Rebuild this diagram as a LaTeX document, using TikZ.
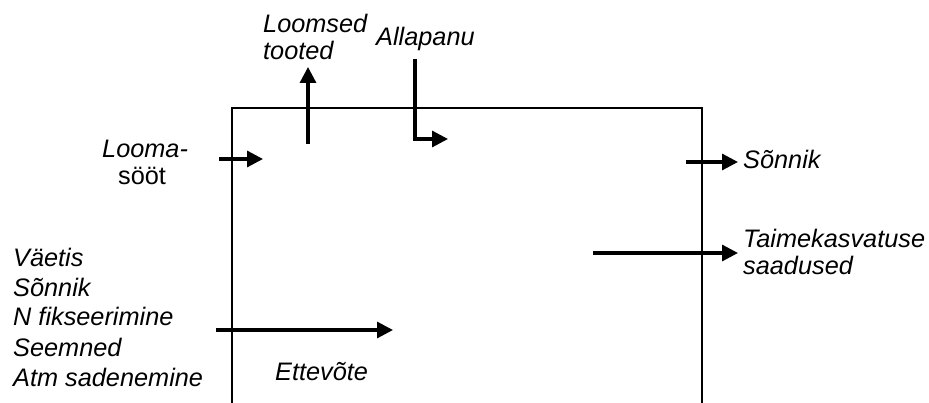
\documentclass[tikz,border=0pt]{standalone}
\usepackage{fontspec}
\setmainfont{Liberation Sans}
\usetikzlibrary{arrows.meta}
\tikzset{
  lbl/.style={inner sep=0pt, anchor=base west, font=\fontsize{25.3}{29}\selectfont\itshape},
  lblup/.style={inner sep=0pt, anchor=base west, font=\fontsize{25.3}{29}\selectfont\upshape},
  frame/.style={line width=1.7pt, line join=miter},
  flow/.style={line width=3.2pt, -{Triangle[length=16pt,width=16pt]}},
}
\begin{document}
\begin{tikzpicture}[x=1pt,y=-1pt]
\useasboundingbox (0,0) rectangle (929,403);

% enterprise boundary (open at the bottom)
\draw[frame] (232,403) -- (232,108) -- (702,108) -- (702,403);

% labels
\node[lbl] (tooted1) at (263,33) {Loomsed};
\node[lbl] (tooted2) at (263,60) {tooted};
\node[lbl] (allapanu) at (376,46) {Allapanu};
\node[lbl] (looma) at (102,158) {Looma-};
\node[lblup] (soot) at (118,185) {sööt};
\node[lbl] (sonnikout) at (743,169) {Sõnnik};
\node[lbl] (taim1) at (743,248) {Taimekasvatuse};
\node[lbl] (taim2) at (743,275) {saadused};
\node[lbl] (in1) at (13,267) {Väetis};
\node[lbl] (in2) at (13,297) {Sõnnik};
\node[lbl] (in3) at (13,326) {N fikseerimine};
\node[lbl] (in4) at (13,356) {Seemned};
\node[lbl] (in5) at (13,386) {Atm sadenemine};
\node[lbl] (ettevote) at (275,380) {Ettevõte};

% arrow end points
\coordinate (tootedS) at (308,144);
\coordinate (tootedE) at (308,67);
\coordinate (allaS) at (415,59);
\coordinate (allaK) at (415,139);
\coordinate (allaE) at (448,139);
\coordinate (soodS) at (219,159);
\coordinate (soodE) at (263,159);
\coordinate (sonnS) at (686,162);
\coordinate (sonnE) at (738,162);
\coordinate (taimS) at (593,253);
\coordinate (taimE) at (738,253);
\coordinate (sisS) at (216,330);
\coordinate (sisE) at (393,330);

% flows
\draw[flow] (tootedS) -- (tootedE);
\draw[flow, line join=miter] (allaS) -- (allaK) -- (allaE);
\draw[flow] (soodS) -- (soodE);
\draw[flow] (sonnS) -- (sonnE);
\draw[flow] (taimS) -- (taimE);
\draw[flow] (sisS) -- (sisE);
\end{tikzpicture}
\end{document}
